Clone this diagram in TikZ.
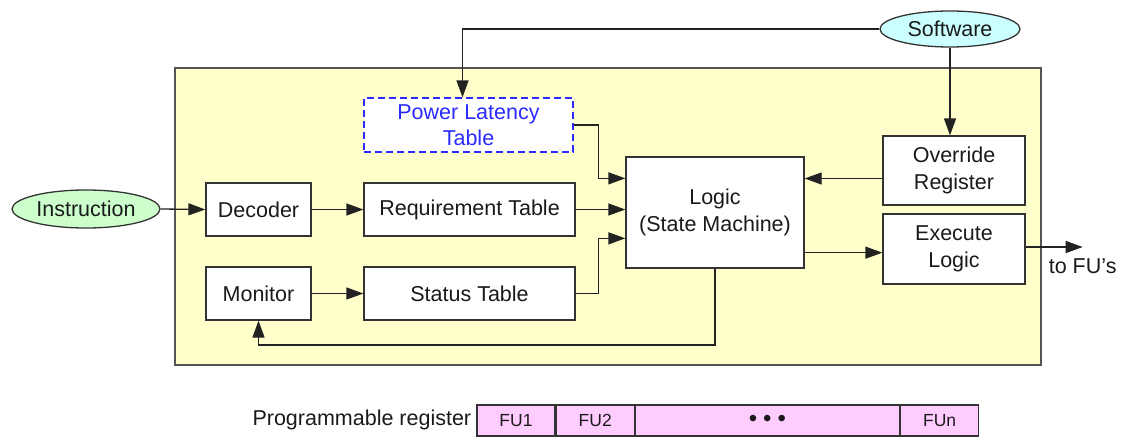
\documentclass[tikz,border=0pt]{standalone}
\usepackage{fontspec}
\setmainfont{Liberation Sans}
\usetikzlibrary{arrows.meta,calc,shapes.geometric}
\definecolor{yellowbg}{HTML}{FFFFCC}
\definecolor{framec}{HTML}{555555}
\definecolor{boxc}{HTML}{333333}
\definecolor{linec}{HTML}{222222}
\definecolor{txt}{HTML}{1A1A1A}
\definecolor{greenfill}{HTML}{CCFFCC}
\definecolor{cyanfill}{HTML}{CCFFFF}
\definecolor{pinkfill}{HTML}{FFCCFF}
\definecolor{plblue}{HTML}{2B2BFF}
\begin{document}
\begin{tikzpicture}[x=1pt,y=-1pt,
  font=\fontsize{21.5}{26.5}\selectfont,
  box/.style={draw=boxc, line width=1.3pt, fill=white, inner sep=0pt, align=center, text=txt},
  oval/.style={ellipse, draw=boxc, line width=1.3pt, inner sep=0pt, text=txt},
  cell/.style={draw=boxc, line width=1.2pt, fill=pinkfill, inner sep=0pt, minimum height=31pt, text=txt, font=\fontsize{17.5}{20}\selectfont},
  arr/.style={draw=linec, line width=1.3pt, -{Triangle[length=17pt,width=12pt]}},
  ln/.style={draw=linec, line width=1.3pt}]
\useasboundingbox (0,0) rectangle (1123,439);
% container
\node[draw=framec, fill=yellowbg, line width=1.3pt, minimum width=866pt, minimum height=297pt, inner sep=0pt] (frame) at (608,216.5) {};
% ellipses
\node[oval, fill=greenfill, minimum width=148pt, minimum height=38pt] (instr) at (86,209) {Instruction};
\node[oval, fill=cyanfill, minimum width=140pt, minimum height=36pt] (soft) at (950,29) {Software};
% boxes
\node[box, minimum width=105pt, minimum height=53pt] (dec) at (258.5,209.5) {Decoder};
\node[box, minimum width=211pt, minimum height=53pt] (req) at (469.5,209.5) {Requirement Table};
\node[box, minimum width=105pt, minimum height=53pt] (mon) at (258.5,293.5) {Monitor};
\node[box, minimum width=211pt, minimum height=53pt] (stat) at (469.5,293.5) {Status Table};
\node[box, draw=plblue, text=plblue, dash pattern=on 7pt off 4pt, minimum width=209pt, minimum height=54pt] (plt) at (468.5,125) {Power Latency\\Table};
\node[box, minimum width=178pt, minimum height=111pt] (logic) at (715,212.5) {Logic\\(State Machine)};
\node[box, minimum width=142pt, minimum height=69pt] (over) at (954,170.5) {Override\\Register};
\node[box, minimum width=142pt, minimum height=70pt] (exec) at (954,249) {Execute\\Logic};
% connectors
\draw[arr] (instr.east) -- (dec.west);
\draw[arr] (dec.east) -- (req.west);
\draw[arr] (mon.east) -- (stat.west);
\draw[arr] (req.east) -- (req.east -| logic.west);
\draw[arr] (plt.east) -- ++(25,0) |- ($(logic.north west)+(0,22)$);
\draw[arr] (stat.east) -- ++(23,0) |- ($(logic.north west)+(0,82)$);
\draw[arr] (soft.west) -| ([xshift=-6pt]plt.north);
\draw[arr] (soft.south) -- (soft.south |- over.north);
\draw[arr] ([yshift=-8pt]over.west) -- ([yshift=-8pt]over.west -| logic.east);
\draw[arr] ($(logic.south east)+(0,-16)$) coordinate (le) -- (le -| exec.west);
\draw[arr] ([yshift=2pt]exec.east) -- ++(57,0) coordinate (fuend);
\node[anchor=north, text=txt, inner sep=0pt] (tofu) at ($(fuend)+(0,12)$) {to FU’s};
\draw[arr] (logic.south) |- (715,345) -| (mon.south);
% programmable register
\node[cell, minimum width=78pt] (fu1) at (516,420.5) {FU1};
\node[cell, minimum width=78pt, anchor=west] (fu2) at (fu1.east) {FU2};
\node[cell, minimum width=264pt, anchor=west] (dots) at (fu2.east) {\fontsize{24}{24}\selectfont\textbullet\hspace{6pt}\textbullet\hspace{6pt}\textbullet};
\node[cell, minimum width=78pt, anchor=west] (fun) at (dots.east) {FUn};
\node[anchor=east, text=txt, inner sep=0pt] (preg) at ([xshift=-5pt,yshift=1pt]fu1.west) {Programmable register};
\end{tikzpicture}
\end{document}
